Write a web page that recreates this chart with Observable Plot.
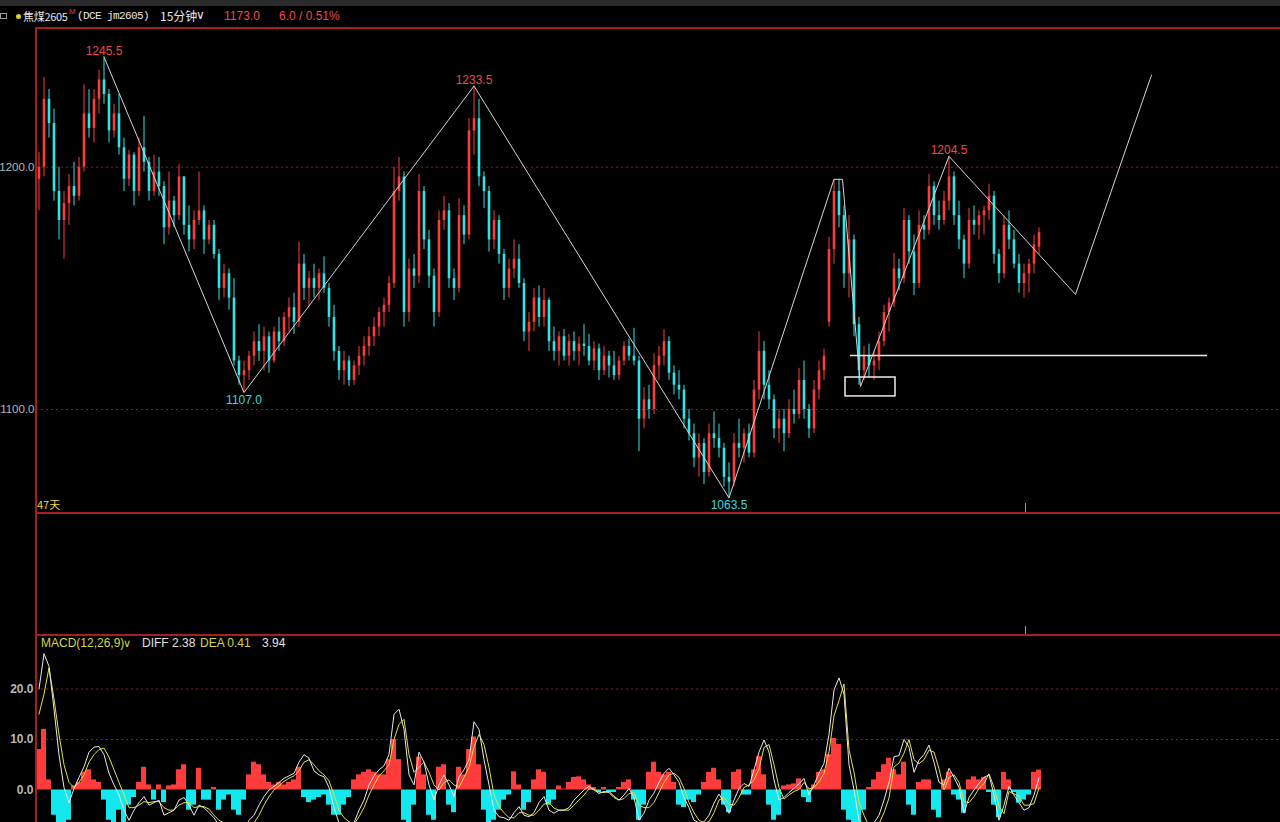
<!DOCTYPE html>
<html><head><meta charset="utf-8">
<script src="https://cdn.jsdelivr.net/npm/d3@7"></script>
<script src="https://cdn.jsdelivr.net/npm/@observablehq/plot@0.6"></script>
<style>
html,body{margin:0;padding:0;background:#000;}
#root{position:relative;width:1280px;height:822px;background:#000;overflow:hidden;font-family:"Liberation Sans",Arial,sans-serif;}
.abs{position:absolute;white-space:nowrap;line-height:14px;font-size:12px;}
svg{display:block;}
</style></head><body><div id="root"></div>
<script>
// ---------- DATA ----------
const opens = [
1195,1200,1228,1218,1190,1178,1185,1192,1188,1200,
1222,1216,1228,1236,1230,1215,1222,1208,1195,1205,
1190,1208,1202,1190,1198,1192,1175,1186,1180,1196,
1176,1170,1178,1182,1170,1176,1164,1150,1156,1146,
1120,1114,1116,1122,1128,1124,1130,1120,1132,1128,
1138,1142,1136,1160,1150,1154,1150,1156,1150,1138,
1124,1116,1120,1112,1118,1122,1126,1130,1134,1140,
1143,1152,1190,1196,1140,1158,1155,1190,1170,1155,
1140,1178,1182,1154,1150,1180,1172,1215,1220,1196,
1190,1170,1178,1164,1150,1158,1162,1152,1132,1136,
1146,1138,1145,1128,1124,1130,1122,1128,1124,1127,
1126,1120,1125,1116,1122,1118,1114,1120,1126,1122,
1120,1096,1104,1100,1118,1122,1128,1115,1110,1108,
1096,1090,1080,1086,1074,1090,1088,1084,1072,1070,
1086,1084,1090,1082,1108,1124,1110,1104,1092,1096,
1090,1100,1098,1112,1100,1092,1108,1116,1136,1166,
1190,1180,1156,1170,1135,1116,1122,1118,1120,1128,
1140,1144,1158,1154,1178,1165,1152,1176,1174,1192,
1180,1178,1186,1196,1180,1170,1160,1178,1176,1180,
1182,1188,1164,1156,1176,1170,1160,1152,1156,1160,
1167];
const highs = [
1206,1237,1232,1224,1200,1190,1197,1202,1204,1234,
1232,1232,1240,1245.5,1232,1226,1230,1212,1207,1206,
1212,1221,1204,1205,1204,1194,1198,1188,1201,1196,
1184,1182,1198,1184,1178,1178,1166,1160,1158,1154,
1122,1120,1124,1132,1135,1134,1132,1134,1138,1140,
1146,1148,1169,1164,1157,1160,1158,1163,1152,1143,
1126,1124,1122,1120,1126,1130,1134,1138,1142,1146,
1155,1200,1204,1198,1162,1164,1197,1192,1174,1158,
1182,1188,1185,1158,1187,1184,1220,1233.5,1228,1198,
1192,1182,1180,1166,1162,1170,1168,1154,1140,1150,
1151,1150,1146,1134,1132,1133,1131,1132,1130,1135,
1131,1128,1127,1126,1124,1124,1122,1128,1129,1133.5,
1122,1109,1110,1123,1126,1133,1130,1118,1116,1110,
1100,1094,1090,1088,1094,1099,1094,1086,1078,1090,
1096,1092,1094,1112,1132,1128,1116,1106,1100,1100,
1104,1108,1117,1120,1102,1112,1120,1125,1171,1195,
1195,1184,1180,1172,1138,1126,1127,1124,1132,1143,
1146,1164.5,1162,1183,1180,1172,1182,1180,1197,1194,
1186,1190,1204.5,1198,1186,1172,1183,1184,1182,1184,
1193,1190,1166,1180,1182,1174,1164,1160,1162,1172,
1175];
const lows = [
1182,1196,1212,1186,1170,1162,1176,1184,1186,1198,
1212,1210,1222,1226,1210,1212,1205,1190,1192,1184,
1188,1198,1186,1188,1188,1168,1172,1175,1178,1172,
1165,1166,1176,1164,1168,1162,1145,1146,1141,1118,
1110,1107,1112,1118,1120,1116,1115,1119,1124,1126,
1132,1131,1134,1145,1142,1146,1145,1148,1134,1120,
1112,1110,1109.5,1110,1114,1118,1122,1126,1130,1134,
1140,1150,1186,1134,1136,1150,1152,1166,1150,1134,
1138,1174,1150,1145,1148,1168,1170,1205,1192,1183,
1165,1166,1160,1145,1146,1154,1150,1128,1124,1132,
1134,1134,1124,1120,1118,1120,1118,1120,1118,1122,
1118,1116,1112,1114,1113,1112,1112,1118,1120,1118,
1082.6,1092,1096,1098,1112,1118,1112,1106,1104,1092,
1087,1076,1072,1069,1072,1084,1080,1068,1063.5,1068,
1080,1078,1080,1080,1104,1104,1100,1088,1086,1082.6,
1088,1094,1096,1096,1088,1090,1104,1112,1134,1160,
1175,1150,1146,1130,1110,1112,1113,1112,1116,1126,
1132,1142,1149,1152,1160,1147,1150,1170,1172,1176,
1174,1176,1182,1176,1166,1154,1158,1172,1170,1172,
1178,1160,1152,1154,1166,1158,1148,1146,1148,1156,
1164];
const closes = [
1200,1228,1218,1190,1178,1185,1192,1188,1200,1222,
1216,1228,1236,1230,1215,1222,1208,1195,1205,1190,
1208,1202,1190,1198,1192,1175,1186,1180,1196,1176,
1170,1178,1182,1170,1176,1164,1150,1156,1146,1120,
1114,1116,1122,1128,1124,1130,1120,1132,1128,1138,
1142,1136,1160,1150,1154,1150,1156,1150,1138,1124,
1116,1120,1112,1118,1122,1126,1130,1134,1140,1143,
1152,1190,1196,1140,1158,1155,1190,1170,1155,1140,
1178,1182,1154,1150,1180,1172,1215,1220,1196,1190,
1170,1178,1164,1150,1158,1162,1152,1132,1136,1146,
1138,1145,1128,1124,1130,1122,1128,1124,1127,1126,
1120,1125,1116,1122,1118,1114,1120,1126,1122,1120,
1096,1104,1100,1118,1122,1128,1115,1110,1108,1096,
1090,1080,1086,1074,1090,1088,1084,1072,1070,1086,
1084,1090,1082,1108,1124,1110,1104,1092,1096,1090,
1100,1098,1112,1100,1092,1108,1116,1122,1166,1190,
1180,1156,1170,1135,1116,1122,1118,1120,1128,1140,
1144,1158,1154,1178,1165,1152,1176,1174,1192,1180,
1178,1186,1196,1180,1170,1160,1178,1176,1180,1182,
1188,1164,1156,1176,1170,1160,1152,1156,1160,1168,
1173];
const diffValues = [
20,27,24.5,16,7,0.5,-2.6,0.3,2.5,4.6,
7.5,8.5,8.6,7,3.3,1,-1,-4,-6,-4,
-2.5,-1.3,-3,-2.5,-2,-5,-4.5,-4,-2,-1.5,
-3,-5,-3,-3.5,-4.5,-5.5,-7,-7,-7.5,-9,
-10,-8,-6,-5,-3,-1.3,0,0.7,1.5,2.3,
2.8,3.3,5.5,7,6.3,3.8,3,2.6,0.5,-3.5,
-6.5,-7,-7,-6.5,-4,-2,1,2.8,4,4.8,
7,15,16,12,3,1,7.5,5.5,1,-2,
1,3,1,-1.3,2.6,4,6,13.5,12,6,
1,-4,-5.3,-5.5,-6,-4.5,-3.3,-5,-5.3,-4.5,
-2.5,-1.3,-4,-4.6,-4,-4,-3.5,-2,-1,0,
0.7,0,-0.7,-0.3,-0.5,-1.5,-2,-1,0.3,-1.5,
-6,-4.6,-2,-0.6,1.5,3.3,4.3,3,1.5,-1.5,
-3.5,-6,-6.5,-6.3,-5,-2.6,-0.8,-2.5,-4.6,-2,
0.3,1.3,0.7,4,7.5,9.9,7.5,2,-2,-1.5,
-0.5,0.3,1.2,2.3,-1,1,3.3,5.3,11,19.8,
22.2,19,5,0,-6,-7,-7,-6.5,-5,-2,
1.5,6.6,6.8,10,8.5,3.5,5.9,7,8.9,5.5,
1.5,1,4.3,2.5,0.5,-4.6,-1.5,0,1.3,2.5,
3,-1,-6,-3,0.7,-1,-2.5,-4,-3.5,-1,
2.38];
const deaValues = [
15,19,24.2,18,11,5,1.5,0.5,1.5,3,
5.5,7,8,8.3,6.5,4,1.5,-1,-3.5,-3.5,
-3,-2.3,-2.5,-2.3,-2.3,-3.5,-4,-4,-3,-2.5,
-2.5,-3.5,-3.3,-3.3,-3.8,-5,-6,-6.5,-7,-8,
-9,-8.5,-7.5,-6.5,-5,-3,-1.3,0,0.8,1.7,
2.3,2.8,3.8,5.5,6,5,3.8,3,1.8,-1,
-4,-5.5,-6.3,-6.8,-5.3,-3.5,-1,1,2.8,3.8,
5,10,13,14,7,3.5,4.5,5.5,3.5,1,
0,1.5,2,1,0.5,2.5,4.5,8.5,11,9,
4.5,-1,-3.3,-4.5,-5.5,-5.5,-4.5,-4.5,-5,-5,
-4,-2.8,-2.5,-3.6,-4,-4,-4,-3,-2,-1,
0.2,0.2,-0.4,-0.5,-0.3,-1.2,-2,-1.7,-0.7,-0.5,
-3,-3.5,-3.5,-2.5,-0.5,1.5,3,3.3,2.5,0.3,
-2.5,-4.5,-6,-6.5,-6.3,-4.5,-2,-1.5,-2.8,-3,
-1.5,0.5,1,2,4.2,8.4,9,5,0.5,-1.8,
-1,-0.3,0.1,1.5,0.2,0.5,1.6,3.3,7.5,14.7,
17.7,21,8,3.5,-2.5,-5,-7.2,-7.5,-6.7,-4.5,
-1.6,4.6,5.3,7.3,10,6,5.2,6,7.9,7.5,
4.2,0,2.5,3,1.5,-2.3,-2.5,-1.3,0.3,1.3,
3.2,0.5,-3.2,-4.7,-0.3,-0.8,-1.2,-3,-3,-2.7,
0.41];
const macdHist = [
8,12,2,-5,-9,-10,-6,0.8,1.5,3.5,
4,2,1.5,-2,-6,-7,-4,-7,-3,-1.5,
1.5,4.5,1,-2,1,-2.5,0.8,1,4,5,
-4,-3,4.3,-2,-2,0.5,-4,-2,-1,-4,
-5,-2,3,5.5,5,3,1.5,1,1.5,1,
1.5,2,4.5,-1.5,-2.5,-2,-1.5,-1,-3,-5,
-5,-3,-1.5,2,3,3.5,4,3.5,3,3,
6,10,6,-6,-7,-3,6.5,3,-5,-6,
4.5,5,-3,-4.5,4.5,3,8,10.5,5,-4,
-7,-6,-4,-2,-1,3.6,1,-4,-2.5,2,
4,3.5,-3,-2,0.8,0.2,1.5,2.5,2.6,2,
1,0.5,-0.5,0.5,-0.5,-0.5,0.5,1.5,2,-2,
-6,-3,3.5,5.5,3.5,3,3.5,1.5,-3,-3.5,
-2,-2.5,-1,1.5,3.5,4.3,2,-3,-4.5,3.5,
4,-1,-1,4,6.6,3,-3,-6,-5,0.8,
1,1.2,2.2,-1.5,-2.5,1,3.5,4,7,10.2,
9,-4,-6,-7,-7,-4,0.5,2,3.5,5,
6.3,4,3,5.5,-3,-5,1.5,2,2,-4,
-5.5,2,3.5,-1,-2,-4.6,2,2.6,2,2.5,
-0.5,-3,-5.5,3.5,2,-0.5,-2.6,-2,-1,3.5,
3.94];
// zigzag pivots (bar index, price)
const pivotIdx   = [13, 41, 87, 138, 159, 160.7, 164.3, 182, 207.3, 222.5];
const pivotPrice = [1245.5, 1107.0, 1233.5, 1063.5, 1195, 1195, 1109.5, 1204.5, 1147.5, 1238];
const pivotLabel = ["1245.5","1107.0","1233.5","1063.5","","","","1204.5","",""];
const pivotKind  = ["high","low","high","low","","","","high","",""];
const supportIdx = [162.3, 233.7];
const supportPrice = 1122.3;
const boxIdx = [161.3, 171.3];
const boxPrice = [1105.4, 1113.2];
const priceTicks = [1100, 1200];
const macdTicks = [0, 10, 20];
const macdGrid = [10, 20];
const dayMarkIdx = [197.3];

// ---------- BUILD ----------
const RED = "#ff3c3c", CYAN = "#2fe6e6";
const HRED = "#ff3b3b", HCYAN = "#13e8ee";
const bars = opens.map((o, i) => ({i, open: o, high: highs[i], low: lows[i], close: closes[i]}));
const macd = diffValues.map((d, i) => ({i, diff: d, dea: deaValues[i], h: macdHist[i]}));
const pivots = pivotIdx.map((x, k) => ({i: x, p: pivotPrice[k], label: pivotLabel[k], kind: pivotKind[k]}));
const support = [{x1: supportIdx[0], x2: supportIdx[1], y: supportPrice}];
const box = [{x1: boxIdx[0], x2: boxIdx[1], y1: boxPrice[0], y2: boxPrice[1]}];
const candleColor = d => d.close >= d.open ? RED : CYAN;
const xDomain = [-0.5, 248.3];
const font = "'Liberation Sans', Arial, sans-serif";
const root = document.getElementById("root");

const price = Plot.plot({
  width: 1280, height: 483,
  marginLeft: 36, marginRight: 0, marginTop: 0, marginBottom: 0,
  style: {background: "transparent", fontFamily: font, fontSize: "12px", overflow: "visible"},
  x: {domain: xDomain, axis: null},
  y: {domain: [1057.49, 1256.83], axis: null},
  marks: [
    Plot.ruleY(priceTicks, {y: d => d, stroke: "#8c1c1c", strokeDasharray: "2,3"}),
    Plot.text(priceTicks, {y: d => d, frameAnchor: "left", text: d => d.toFixed(1), textAnchor: "end", dx: -2, fill: "#b8b8b8", fontSize: 11.5}),
    Plot.ruleX(bars, {x: "i", y1: "low", y2: "high", stroke: candleColor, strokeWidth: 1}),
    Plot.ruleX(bars, {x: "i", y1: "open", y2: "close", stroke: candleColor, strokeWidth: 2.6}),
    Plot.line(pivots, {x: "i", y: "p", stroke: "#d4d4d4", strokeWidth: 1}),
    Plot.ruleY(support, {x1: "x1", x2: "x2", y: "y", stroke: "#e6e6e6", strokeWidth: 1.5}),
    Plot.rect(box, {x1: "x1", x2: "x2", y1: "y1", y2: "y2", fill: "none", stroke: "#ececec", strokeWidth: 1.5}),
    Plot.text(pivots.filter(d => d.kind === "high"), {x: "i", y: "p", text: "label", fill: "#f04848", lineAnchor: "bottom", dy: -2, fontSize: 12}),
    Plot.text(pivots.filter(d => d.kind === "low"), {x: "i", y: "p", text: "label", fill: "#35d8e0", lineAnchor: "top", dy: 3, fontSize: 12})
  ]
});
price.style.position = "absolute"; price.style.left = "0px"; price.style.top = "29px";
root.appendChild(price);

const macdPlot = Plot.plot({
  width: 1280, height: 186,
  marginLeft: 36, marginRight: 0, marginTop: 0, marginBottom: 0,
  style: {background: "transparent", fontFamily: font, fontSize: "12px"},
  x: {domain: xDomain, axis: null},
  y: {domain: [-6.44, 30.40], axis: null},
  marks: [
    Plot.ruleY(macdGrid, {y: d => d, stroke: "#8c1c1c", strokeDasharray: "2,3"}),
    Plot.rectY(macd, {x1: d => d.i - 0.5, x2: d => d.i + 0.5, y1: d => 0, y2: "h", fill: d => d.h >= 0 ? HRED : HCYAN, inset: 0, clip: true}),
    Plot.line(macd, {x: "i", y: "dea", stroke: "#e2e23a", strokeWidth: 1, clip: true}),
    Plot.line(macd, {x: "i", y: "diff", stroke: "#e8e8e8", strokeWidth: 1, clip: true}),
    Plot.text(macdTicks, {y: d => d, frameAnchor: "left", text: d => d.toFixed(1), textAnchor: "end", dx: -3, fill: "#b8b8b8", fontSize: 12, fontWeight: "bold"})
  ]
});
macdPlot.style.position = "absolute"; macdPlot.style.left = "0px"; macdPlot.style.top = "636px";
root.appendChild(macdPlot);

// ---------- FRAME / HTML TEXT ----------
function div(style, html) {
  const d = document.createElement("div");
  d.className = "abs";
  d.setAttribute("style", style);
  if (html !== undefined) d.innerHTML = html;
  root.appendChild(d);
  return d;
}
div("left:0;top:0;width:1280px;height:6px;background:#2b2b2b");
// panel borders
div("left:35px;top:27px;width:1245px;height:2px;background:#a81e1e");
div("left:35px;top:512px;width:1245px;height:2px;background:#a81e1e");
div("left:35px;top:634px;width:1245px;height:2px;background:#a81e1e");
div("left:35px;top:27px;width:2px;height:795px;background:#a81e1e");
// day separator marks
const xs = price.scale("x");
dayMarkIdx.forEach(v => {
  const px = Math.round(xs.apply(v));
  div(`left:${px}px;top:503px;width:1px;height:9px;background:#9a9a9a`);
  div(`left:${px}px;top:626px;width:1px;height:8px;background:#9a9a9a`);
});
// header
div("left:0px;top:13px;width:5px;height:4px;border:1px solid #9a9a9a");
div("left:16px;top:14px;width:5px;height:5px;border-radius:50%;background:#e6d21e");
div("left:23px;top:9px;color:#e6e6e6;font-family:'Noto Sans CJK SC',sans-serif;font-size:11px;letter-spacing:-0.3px", "焦煤2605");
div("left:69px;top:5px;color:#e04040;font-size:8px", "M");
div("left:77px;top:9px;color:#e6e6e6;font-family:'Liberation Mono',monospace;font-size:11px;letter-spacing:-0.6px", "(DCE jm2605)");
div("left:160px;top:9px;color:#e6e6e6;font-family:'Noto Sans CJK SC',sans-serif;font-size:12px", "15分钟");
div("left:196px;top:8px;color:#e6e6e6;font-size:12px", "∨");
div("left:224px;top:9px;color:#f04848;font-size:12px", "1173.0");
div("left:279px;top:9px;color:#f04848;font-size:12px", "6.0 / 0.51%");
// 47天
div("left:37px;top:497px;color:#e8d838;font-family:'Noto Sans CJK SC',sans-serif;font-size:11px", "47天");
// MACD header
div("left:41px;top:636px;color:#d6d64a;font-size:12px", "MACD(12,26,9)");
div("left:123px;top:636px;color:#d6d64a;font-size:11px", "∨");
div("left:142px;top:636px;color:#e0e0e0;font-size:12px", "DIFF 2.38");
div("left:200px;top:636px;color:#d6d64a;font-size:12px", "DEA 0.41");
div("left:262px;top:636px;color:#e0e0e0;font-size:12px", "3.94");
</script>
</body></html>
